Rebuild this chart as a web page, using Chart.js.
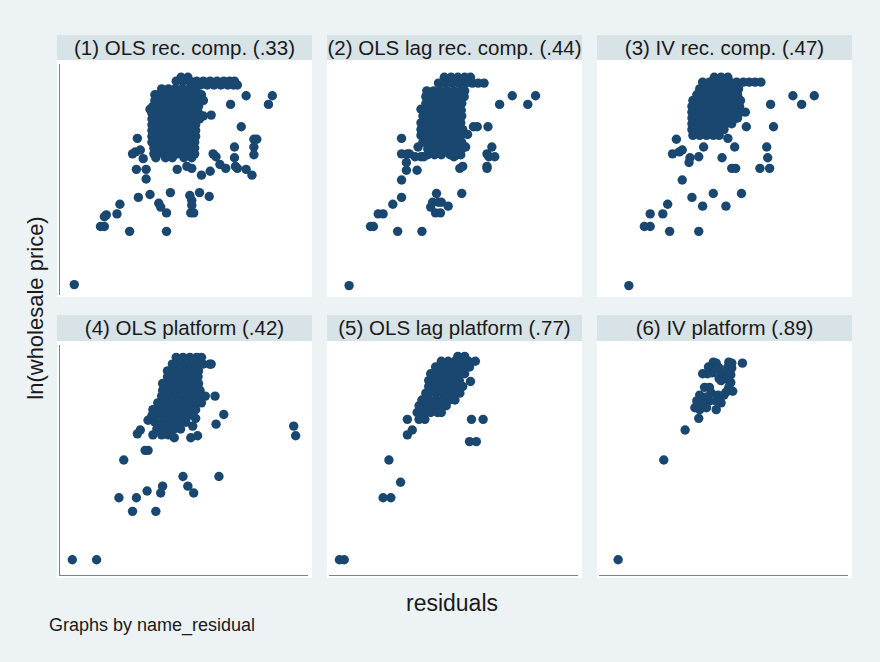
<!DOCTYPE html>
<html lang="en">
<head>
    <meta charset="UTF-8">
    <title>ln(wholesale price) vs residuals</title>
    <style>
        body {
            margin: 0;
            background: #edf2f5;
            font-family: "Liberation Sans", Arial, sans-serif;
        }
        #graph {
            position: relative;
            width: 880px;
            height: 662px;
            overflow: hidden;
        }
        .strip {
            position: absolute;
            background: #d8e3e8;
            color: #1a1a1a;
            font-size: 20.5px;
            text-align: center;
            white-space: nowrap;
        }
        .plotbg {
            position: absolute;
            background: #fff;
        }
        canvas {
            position: absolute;
        }
        #ytitle {
            position: absolute;
            left: 36px;
            top: 308px;
            font-size: 22px;
            color: #1a1a1a;
            white-space: nowrap;
            transform: translate(-50%, -50%) rotate(-90deg);
        }
        #xtitle {
            position: absolute;
            left: 452px;
            top: 603px;
            font-size: 23px;
            color: #1a1a1a;
            transform: translate(-50%, -50%);
        }
        #note {
            position: absolute;
            left: 49px;
            top: 615px;
            font-size: 18px;
            color: #1a1a1a;
            white-space: nowrap;
        }
    </style>
</head>
<body>
    <div id="graph">
        <div id="ytitle">ln(wholesale price)</div>
        <div id="xtitle">residuals</div>
        <div id="note">Graphs by name_residual</div>
    </div>

    <script src="https://cdn.jsdelivr.net/npm/chart.js"></script>
    <script>
        // each row: [ln price, residual, residual, ...]
        const p1 = [
            [5.24, -0.75, -0.68],
            [5.20, -0.80, -0.73, -0.66, -0.59, -0.52, -0.45, -0.38, -0.31, -0.25, -0.20],
            [5.16, -0.62, -0.55, -0.48, -0.41, -0.34, -0.27, -0.21, -0.17],
            [5.12, -0.95, -0.88, -0.81, -0.74, -0.67, -0.60],
            [5.06, -1.02, -0.985, -0.915, -0.845, -0.775, -0.705, -0.635, -0.565, -0.54],
            [5.05, -0.08, 0.19],
            [5.00, -1.02, -0.98, -0.91, -0.84, -0.77, -0.70, -0.63, -0.56, -0.52],
            [4.96, -0.24, 0.15],
            [4.94, -1.04, -1.005, -0.935, -0.865, -0.795, -0.725, -0.655, -0.585, -0.57],
            [4.91, -1.07],
            [4.87, -1.05, -0.98, -0.91, -0.84, -0.77, -0.70, -0.63, -0.57],
            [4.85, -0.44],
            [4.84, -0.52],
            [4.81, -1.05, -1.015, -0.945, -0.875, -0.805, -0.735, -0.665, -0.595, -0.56],
            [4.75, -1.05, -0.98, -0.91, -0.84, -0.77, -0.70, -0.63, -0.60],
            [4.73, -0.13],
            [4.69, -1.05, -1.015, -0.945, -0.875, -0.805, -0.735, -0.665, -0.60],
            [4.63, -1.05, -0.98, -0.91, -0.84, -0.77, -0.70, -0.63, -0.60],
            [4.61, -1.20],
            [4.60, 0.00, 0.03],
            [4.57, -1.05, -1.015, -0.945, -0.875, -0.805, -0.735, -0.665, -0.61],
            [4.52, -0.20, 0.00],
            [4.51, -1.03, -0.96, -0.89, -0.82, -0.75, -0.68, -0.61],
            [4.49, -1.17],
            [4.47, -1.22],
            [4.45, -1.25, -1.03, -0.995, -0.925, -0.855, -0.785, -0.715, -0.645, -0.61, -0.42],
            [4.44, 0.00],
            [4.42, -0.39],
            [4.41, -1.01, -0.91, -0.84, -0.72, -0.64, -0.20],
            [4.40, -1.14],
            [4.34, -0.35],
            [4.32, -0.69, -0.19],
            [4.30, -0.64, -0.29, -0.17],
            [4.29, -1.21, -1.11, -0.79, -0.08],
            [4.27, -0.45],
            [4.23, -0.54, -0.02],
            [4.19, -1.11],
            [4.05, -0.86, -0.56],
            [4.03, -1.07],
            [4.02, -0.66],
            [4.01, -0.46],
            [4.00, -1.19],
            [3.97, -0.64],
            [3.94, -0.98],
            [3.93, -1.38],
            [3.92, -0.64],
            [3.90, -0.96],
            [3.84, -0.90, -0.65, -0.62],
            [3.83, -1.41],
            [3.82, -1.52],
            [3.80, -1.54],
            [3.70, -1.58, -1.54],
            [3.65, -1.28, -0.90],
            [3.10, -1.85]
        ];

        const p2 = [
            [5.24, -0.82, -0.75, -0.68, -0.61, -0.55],
            [5.18, -0.88, -0.81, -0.74, -0.67, -0.60, -0.53, -0.47, -0.41],
            [5.10, -1.00, -0.93, -0.86, -0.79, -0.72, -0.65, -0.61],
            [5.05, -0.12, 0.12],
            [5.04, -1.01, -0.965, -0.895, -0.825, -0.755, -0.685, -0.615],
            [4.97, -1.01, -0.94, -0.87, -0.80, -0.73, -0.66, -0.64],
            [4.96, -0.25, 0.04],
            [4.91, -1.06],
            [4.90, -1.03, -0.995, -0.925, -0.855, -0.785, -0.715, -0.645],
            [4.84, -1.04, -0.97, -0.90, -0.83, -0.76, -0.69, -0.64],
            [4.77, -1.06, -1.025, -0.955, -0.885, -0.815, -0.745, -0.675, -0.65],
            [4.73, -0.52, -0.48, -0.37],
            [4.70, -1.06, -0.99, -0.92, -0.85, -0.78, -0.71, -0.64, -0.63],
            [4.65, -0.58],
            [4.64, -1.06, -1.025, -0.955, -0.885, -0.815, -0.745, -0.675, -0.65],
            [4.61, -1.26],
            [4.57, -1.04, -0.97, -0.90, -0.83, -0.76, -0.69, -0.64],
            [4.52, -1.09, -0.60, -0.33],
            [4.50, -0.99, -0.955, -0.885, -0.815, -0.745, -0.675, -0.64],
            [4.45, -1.26, -1.20, -1.18, -0.38],
            [4.44, -0.99, -0.92, -0.85, -0.76, -0.69, -0.65],
            [4.42, -1.12, -1.06, -1.03, -0.72, -0.36, -0.30],
            [4.36, -1.21],
            [4.32, -0.63, -0.38],
            [4.30, -0.66, -0.38],
            [4.28, -1.21, -1.10],
            [4.18, -1.26],
            [4.04, -0.90, -0.64],
            [4.00, -1.26],
            [3.95, -0.94, -0.88, -0.85],
            [3.93, -1.35],
            [3.91, -0.78],
            [3.90, -0.96],
            [3.84, -0.91, -0.86],
            [3.83, -1.50, -1.45],
            [3.70, -1.58, -1.55],
            [3.65, -1.30, -1.05],
            [3.09, -1.80]
        ];

        const p3 = [
            [5.24, -0.82, -0.75, -0.68],
            [5.19, -0.94, -0.87, -0.80, -0.73, -0.66, -0.59, -0.52, -0.46, -0.40, -0.34],
            [5.12, -0.97, -0.90, -0.83, -0.76, -0.69, -0.62, -0.57],
            [5.06, -1.00, -0.965, -0.895, -0.825, -0.755, -0.685, -0.615, -0.58],
            [5.05, -0.01, 0.21],
            [5.00, -1.04, -0.97, -0.90, -0.83, -0.76, -0.69, -0.62, -0.55],
            [4.96, -0.24, 0.08],
            [4.94, -1.05, -1.015, -0.945, -0.875, -0.805, -0.735, -0.665, -0.595, -0.56],
            [4.88, -1.05, -0.98, -0.91, -0.84, -0.77, -0.70, -0.63, -0.55, -0.50],
            [4.82, -1.05, -1.015, -0.945, -0.875, -0.805, -0.735, -0.665, -0.595, -0.58],
            [4.76, -1.05, -0.98, -0.91, -0.84, -0.77, -0.70, -0.64],
            [4.73, -0.49, -0.21],
            [4.70, -1.05, -1.015, -0.945, -0.875, -0.805, -0.735, -0.72],
            [4.64, -1.04, -0.97, -0.90, -0.83, -0.77],
            [4.61, -0.68],
            [4.60, -1.21],
            [4.52, -0.93, -0.61, -0.28],
            [4.49, -1.15],
            [4.47, -1.18],
            [4.45, -1.25],
            [4.42, -0.98],
            [4.41, -1.07, -0.74, -0.27],
            [4.36, -1.08],
            [4.30, -0.64, -0.60, -0.35, -0.25],
            [4.18, -1.15],
            [4.04, -0.83, -0.54],
            [4.00, -1.05],
            [3.93, -1.30],
            [3.91, -0.94, -0.70],
            [3.83, -1.48, -1.35],
            [3.70, -1.54, -1.48],
            [3.65, -1.28, -0.98],
            [3.09, -1.70]
        ];

        const p4 = [
            [5.25, -0.80, -0.73, -0.66, -0.59, -0.54],
            [5.18, -0.84, -0.805, -0.735, -0.665, -0.595, -0.525, -0.455, -0.44],
            [5.11, -0.89, -0.82, -0.75, -0.68, -0.61, -0.57],
            [5.05, -0.89, -0.855, -0.785, -0.715, -0.645, -0.575],
            [4.98, -0.94, -0.87, -0.80, -0.73, -0.66, -0.59, -0.57],
            [4.91, -0.94, -0.905, -0.835, -0.765, -0.695, -0.625, -0.555],
            [4.85, -0.95, -0.88, -0.81, -0.74, -0.67, -0.60, -0.53, -0.50, -0.40],
            [4.78, -0.99, -0.955, -0.885, -0.815, -0.745, -0.675, -0.605, -0.54],
            [4.71, -1.04, -0.97, -0.90, -0.83, -0.76, -0.69, -0.62, -0.60],
            [4.66, -0.31],
            [4.65, -1.05, -1.015, -0.945, -0.875, -0.805, -0.735, -0.67],
            [4.62, -0.60],
            [4.60, -1.09],
            [4.58, -1.02, -0.95, -0.88, -0.81, -0.74, -0.70],
            [4.56, -0.39],
            [4.54, -0.63, 0.41],
            [4.51, -1.00, -0.965, -0.895, -0.825, -0.755],
            [4.50, -1.17],
            [4.46, -1.20],
            [4.45, -1.04, -0.95, -0.88],
            [4.44, -0.58, 0.43],
            [4.42, -0.82, -0.65],
            [4.29, -1.12, -1.09],
            [4.19, -1.34],
            [4.02, -0.73, -0.36],
            [3.92, -0.94, -0.68],
            [3.87, -1.10],
            [3.85, -0.96, -0.62],
            [3.80, -1.39, -1.21],
            [3.66, -1.25, -1.01],
            [3.16, -1.87, -1.62]
        ];

        const p5 = [
            [5.26, -0.68, -0.61],
            [5.21, -0.85, -0.78, -0.71, -0.64, -0.57, -0.50],
            [5.15, -0.91, -0.875, -0.805, -0.735, -0.665, -0.595, -0.56],
            [5.08, -0.96, -0.89, -0.82, -0.75, -0.68, -0.61],
            [5.01, -0.98, -0.945, -0.875, -0.805, -0.735, -0.665],
            [5.00, -0.55],
            [4.95, -0.98, -0.91, -0.84, -0.77, -0.70, -0.63],
            [4.88, -1.01, -0.975, -0.905, -0.835, -0.765, -0.695, -0.66],
            [4.81, -1.05, -0.98, -0.91, -0.84, -0.77, -0.71],
            [4.75, -1.08, -1.045, -0.975, -0.905, -0.835, -0.80],
            [4.68, -1.10, -1.03, -0.96, -0.89, -0.85],
            [4.61, -1.20, -1.08, -1.02, -0.54, -0.42],
            [4.50, -1.15],
            [4.45, -1.20],
            [4.38, -0.56, -0.49],
            [4.19, -1.39],
            [3.96, -1.27],
            [3.80, -1.45, -1.37],
            [3.16, -1.90, -1.85]
        ];

        const p6 = [
            [5.20, -0.83, -0.67],
            [5.19, -0.80, -0.64, -0.53],
            [5.15, -0.88, -0.68],
            [5.14, -0.82, -0.77, -0.64],
            [5.10, -0.69],
            [5.09, -0.84],
            [5.08, -0.94, -0.89, -0.75],
            [5.07, -0.65],
            [5.03, -0.77],
            [5.02, -0.68],
            [5.01, -0.75],
            [4.99, -0.65],
            [4.94, -0.92, -0.87, -0.67],
            [4.90, -0.63],
            [4.89, -0.70],
            [4.88, -0.85],
            [4.86, -0.97, -0.78, -0.72],
            [4.84, -0.90],
            [4.80, -1.00, -0.87, -0.80],
            [4.79, -0.94],
            [4.78, -0.75],
            [4.73, -1.02, -0.90],
            [4.71, -0.97, -0.80],
            [4.62, -0.98],
            [4.50, -1.12],
            [4.19, -1.34],
            [3.16, -1.81]
        ];

        const titles = [
            '(1) OLS rec. comp. (.33)',
            '(2) OLS lag rec. comp. (.44)',
            '(3) IV rec. comp. (.47)',
            '(4) OLS platform (.42)',
            '(5) OLS lag platform (.77)',
            '(6) IV platform (.89)'
        ];
        const panelData = [p1, p2, p3, p4, p5, p6];

        // shared axis ranges (Stata by() graphs use common scales)
        const xMin = -2, xMax = 0.55;
        const yMin = 3, yMax = 5.37;

        // layout of the 3x2 grid
        const colLeft = [57, 327, 597];
        const panelW = 255;
        const stripTop = [35, 315];
        const stripH = [25, 26];
        const plotTop = [60, 341];
        const plotH = 237;
        const pad = 2;

        const graph = document.getElementById('graph');

        function toPoints(rows) {
            const pts = [];
            rows.forEach(r => {
                for (let i = 1; i < r.length; i++) pts.push({ x: r[i], y: r[0] });
            });
            return pts;
        }

        panelData.forEach((rows, i) => {
            const col = i % 3;
            const row = Math.floor(i / 3);
            const left = colLeft[col];

            const strip = document.createElement('div');
            strip.className = 'strip';
            strip.style.left = left + 'px';
            strip.style.top = stripTop[row] + 'px';
            strip.style.width = panelW + 'px';
            strip.style.height = stripH[row] + 'px';
            strip.style.lineHeight = stripH[row] + 'px';
            strip.textContent = titles[i];
            graph.appendChild(strip);

            const bg = document.createElement('div');
            bg.className = 'plotbg';
            bg.style.left = left + 'px';
            bg.style.top = plotTop[row] + 'px';
            bg.style.width = panelW + 'px';
            bg.style.height = plotH + 'px';
            graph.appendChild(bg);

            // axis lines only on the outer edges, like Stata's compact by() layout
            const showY = col === 0;
            const showX = row === 1;

            const canvas = document.createElement('canvas');
            canvas.width = panelW + pad;
            canvas.height = plotH + pad;
            canvas.style.left = (left - pad) + 'px';
            canvas.style.top = plotTop[row] + 'px';
            graph.appendChild(canvas);

            new Chart(canvas.getContext('2d'), {
                type: 'scatter',
                data: {
                    datasets: [{
                        data: toPoints(rows),
                        backgroundColor: '#1a476f',
                        borderWidth: 0,
                        pointRadius: 4.7,
                        pointHoverRadius: 4.7,
                        clip: false
                    }]
                },
                options: {
                    responsive: false,
                    animation: false,
                    layout: { padding: { left: pad, right: 0, top: 0, bottom: pad } },
                    plugins: {
                        legend: { display: false },
                        tooltip: { enabled: false }
                    },
                    scales: {
                        x: {
                            type: 'linear',
                            min: xMin,
                            max: xMax,
                            display: showX,
                            ticks: { display: false },
                            grid: { display: false, drawTicks: false },
                            border: { display: true, color: '#808080', width: 1 }
                        },
                        y: {
                            type: 'linear',
                            min: yMin,
                            max: yMax,
                            display: showY,
                            ticks: { display: false },
                            grid: { display: false, drawTicks: false },
                            border: { display: true, color: '#808080', width: 1 }
                        }
                    }
                }
            });
        });
    </script>
</body>
</html>
